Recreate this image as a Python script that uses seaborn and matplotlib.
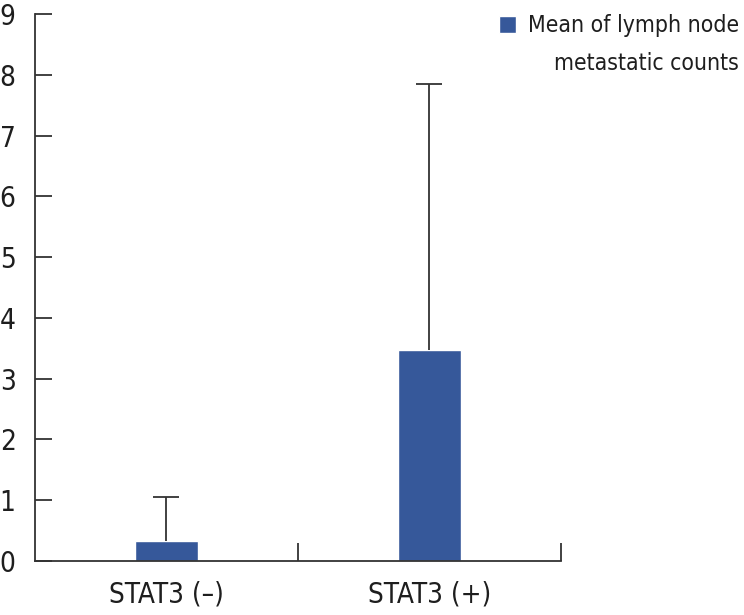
import matplotlib
matplotlib.use("Agg")
import matplotlib.pyplot as plt
from matplotlib import font_manager as fm
import seaborn as sns
import numpy as np
import pandas as pd

# dados
grupos = ["STAT3 (–)", "STAT3 (+)"]
media_linfonodos = [0.32, 3.47]
dp_linfonodos = [0.73, 4.38]
legenda_linha1 = "Mean of lymph node"
legenda_linha2 = "metastatic counts"

sns.set_theme(style="white")
# fonte estreita, parecida com Helvetica Condensed
nomes_fontes = {f.name for f in fm.fontManager.ttflist}
if 'Liberation Sans Narrow' in nomes_fontes:
    plt.rcParams['font.family'] = ['Liberation Sans Narrow', 'DejaVu Sans']
else:
    plt.rcParams['font.family'] = ['DejaVu Sans']
    plt.rcParams['font.stretch'] = 'condensed'

cor_barra = "#36589a"
cor_linha = "#333333"
cor_texto = "#1e1e1e"

df = pd.DataFrame({"grupo": grupos, "media": media_linfonodos})

fig = plt.figure(figsize=(7.44, 6.15), dpi=100)
ax = fig.add_axes([0.047, 0.088, 0.707, 0.889])

sns.barplot(data=df, x="grupo", y="media", color=cor_barra, width=0.243,
            saturation=1, errorbar=None, ax=ax, label=legenda_linha1)
if ax.get_legend() is not None:
    ax.get_legend().remove()

# barra de erro so para cima
eb = ax.errorbar(x=np.arange(len(grupos)), y=media_linfonodos,
                 yerr=[np.zeros(len(grupos)), dp_linfonodos],
                 fmt="none", ecolor=cor_linha, elinewidth=1.3, capsize=9.5, capthick=1.3)
for cap in eb[1]:
    if np.allclose(cap.get_ydata(), media_linfonodos):
        cap.set_visible(False)

ax.set_ylim(0, 9)
ax.set_xlim(-0.5, len(grupos) - 0.5)
ax.set_yticks(range(0, 10))
ax.set_xlabel("")
ax.set_ylabel("")

# ticks do eixo x nas divisas das categorias, rotulos no centro
ax.set_xticks(np.arange(len(grupos)) + 0.5)
ax.set_xticklabels([])
ax.set_xticks(np.arange(len(grupos)), minor=True)
ax.set_xticklabels(grupos, minor=True, fontsize=20)
ax.tick_params(axis="x", which="major", bottom=True, direction="in", length=13,
               width=1.3, color=cor_linha)
ax.tick_params(axis="x", which="minor", bottom=True, length=0, pad=14, labelcolor=cor_texto)
ax.tick_params(axis="y", left=True, direction="in", length=12, width=1.3, color=cor_linha,
               labelsize=20, pad=14, labelcolor=cor_texto)

sns.despine(ax=ax)
for lado in ["left", "bottom"]:
    ax.spines[lado].set_color(cor_linha)
    ax.spines[lado].set_linewidth(1.3)

handles, labels = ax.get_legend_handles_labels()
leg = fig.legend(handles[:1], labels[:1], loc="upper right",
                 bbox_to_anchor=(0.993, 0.977),
                 frameon=False, fontsize=16.5, handlelength=0.75, handleheight=0.75,
                 handletextpad=0.5, borderaxespad=0, borderpad=0)
for t in leg.get_texts():
    t.set_color(cor_texto)
fig.text(0.993, 1 - 70 / 615, legenda_linha2, ha="right", va="baseline",
         fontsize=16.5, color=cor_texto)

fig.savefig("out.png", dpi=100)
